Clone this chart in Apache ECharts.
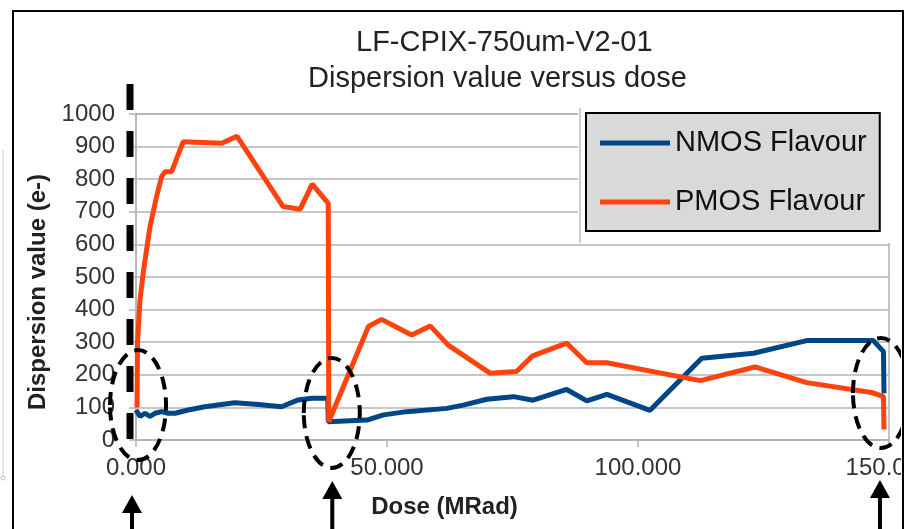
<!DOCTYPE html>
<html>
<head>
<meta charset="utf-8">
<script src="https://cdn.jsdelivr.net/npm/echarts@6/dist/echarts.min.js"></script>
<style>
  html, body { margin: 0; padding: 0; background: #fff; }
  #chart { width: 908px; height: 529px; }
</style>
</head>
<body>
<div id="chart"></div>
<script>
// (dose in MRad, dispersion in e-)
var nmosDose = [0, 0.8, 1.8, 2.8, 3.8, 5.1, 6.4, 7.8, 10.4, 13.7, 19.7, 24.4, 29, 32.3, 35, 38.2,
    38.3, 46, 49.3, 53.9, 61.9, 65.2, 69.9, 75.2, 79.1, 85.8, 89.8, 93.8, 102.4, 112.7, 123, 133.6, 146.9, 148.9, 149];
var nmosValue = [92, 72, 82, 72, 82, 87, 82, 82, 92, 102, 114, 109, 102, 123, 128, 128,
    56, 61, 77, 87, 97, 107, 125, 133, 122, 155, 120, 140, 91, 251, 266, 305, 305, 271, 143];

var pmosDose = [0.2, 0.3, 0.8, 1.5, 2.8, 4, 5.1, 5.8, 7.1, 9.4, 17.1, 20.1, 29.3, 32.7, 35.1, 38.3,
    38.4, 46.3, 48.9, 54.9, 58.6, 62.2, 70.5, 75.8, 79, 85.8, 89.8, 93.8, 112.4, 123.3, 133.6, 146.5, 148.9, 149];
var pmosValue = [100, 300, 430, 520, 655, 740, 808, 823, 823, 915, 910, 932, 716, 708, 785, 726,
    56, 348, 370, 322, 350, 291, 205, 210, 258, 297, 237, 237, 182, 224, 176, 146, 133, 32];

var seriesNames = ['NMOS Flavour', 'PMOS Flavour'];
var titleLines = ['LF-CPIX-750um-V2-01', 'Dispersion value versus dose'];

// hand-drawn marks on the original: ellipse centres and arrow positions, in data units
var ellipseAt = [[0.4, 107], [39, 83], [148.4, 144]];
var arrowAt = [-0.8, 39.1, 148.2];
var arrowTipBelow = [55, 41, 40];

var FONT = "'Liberation Sans', Arial, sans-serif";

function pairs(xs, ys) {
    return xs.map(function (x, i) { return [x, ys[i]]; });
}

var chart = echarts.init(document.getElementById('chart'));

var option = {
    animation: false,
    backgroundColor: '#fff',
    title: [
        { text: titleLines[0], left: 356, top: 28, padding: 0,
          textStyle: { fontFamily: FONT, fontSize: 29, fontWeight: 'normal', color: '#222' } },
        { text: titleLines[1], left: 308, top: 64, padding: 0,
          textStyle: { fontFamily: FONT, fontSize: 29, fontWeight: 'normal', color: '#222' } }
    ],
    legend: {
        orient: 'vertical',
        left: 586,
        top: 113,
        z: 10,
        padding: [15, 13, 14, 14],
        itemGap: 29,
        itemWidth: 70,
        itemHeight: 5,
        icon: 'rect',
        backgroundColor: '#d9d9d9',
        borderColor: '#000',
        borderWidth: 2,
        textStyle: { fontFamily: FONT, fontSize: 29, lineHeight: 30, color: '#111' },
        data: seriesNames
    },
    grid: {
        left: 136, right: 19, top: 114, bottom: 89,
        containLabel: false,
        outerBoundsMode: 'none',
        show: true, borderColor: '#b3b3b3', borderWidth: 1.5
    },
    xAxis: {
        type: 'value',
        min: 0, max: 150, interval: 50,
        name: 'Dose (MRad)',
        nameLocation: 'middle',
        nameGap: 55,
        nameTextStyle: { fontFamily: FONT, fontSize: 24, fontWeight: 'bold', color: '#222', padding: [0, 136, 0, 0] },
        axisLine: { lineStyle: { color: '#b3b3b3', width: 1.5 } },
        axisTick: { show: true, length: 7, lineStyle: { color: '#b3b3b3', width: 1.5 } },
        axisLabel: {
            fontFamily: FONT, fontSize: 24, color: '#333', margin: 16,
            formatter: function (v) { return v.toFixed(3); }
        },
        splitLine: { show: false }
    },
    yAxis: {
        type: 'value',
        min: 0, max: 1000, interval: 100,
        name: 'Dispersion value (e-)',
        nameLocation: 'middle',
        nameGap: 85,
        nameTextStyle: { fontFamily: FONT, fontSize: 24, fontWeight: 'bold', color: '#222', padding: [0, 30, 0, 0] },
        axisLine: { show: true, lineStyle: { color: '#b3b3b3', width: 1.5 } },
        axisTick: { show: true, length: 7, lineStyle: { color: '#b3b3b3', width: 1.5 } },
        axisLabel: {
            fontFamily: FONT, fontSize: 24, color: '#333', margin: 21,
            formatter: function (v) { return String(v); }
        },
        splitLine: { lineStyle: { color: '#b3b3b3', width: 1.5 } }
    },
    series: [
        {
            name: seriesNames[0], type: 'line', symbol: 'none',
            color: '#004586',
            lineStyle: { width: 5, color: '#004586' },
            data: pairs(nmosDose, nmosValue)
        },
        {
            name: seriesNames[1], type: 'line', symbol: 'none',
            color: '#ff420e',
            lineStyle: { width: 5, color: '#ff420e' },
            data: pairs(pmosDose, pmosValue)
        }
    ]
};

chart.setOption(option);

// annotations, placed from the axes once the grid exists
function buildGraphic() {
    var pt = function (x, y) { return chart.convertToPixel({ gridIndex: 0 }, [x, y]); };
    var g = [];
    var top = pt(0, 1000), origin = pt(0, 0);

    // white box the legend sits in
    g.push({ type: 'rect', z: 6, shape: { x: 578, y: 107, width: 315, height: 136 }, style: { fill: '#fff' } });
    g.push({ type: 'line', z: 7, shape: { x1: 580, y1: 108, x2: 580, y2: 243 }, style: { stroke: '#bbb', lineWidth: 1.5 } });

    // dashed marker along the y axis
    g.push({
        type: 'line', z: 50,
        shape: { x1: origin[0] - 6, y1: top[1] - 30, x2: origin[0] - 6, y2: origin[1] },
        style: { stroke: '#000', lineWidth: 7, lineDash: [26, 21] }
    });

    ellipseAt.forEach(function (d) {
        var c = pt(d[0], d[1]);
        g.push({
            type: 'ellipse', z: 50,
            shape: { cx: c[0], cy: c[1], rx: 28, ry: 55 },
            style: { fill: 'none', stroke: '#000', lineWidth: 4, lineDash: [13, 8] }
        });
    });

    arrowAt.forEach(function (x, i) {
        var px = pt(x, 0)[0];
        var tip = origin[1] + arrowTipBelow[i];
        g.push({ type: 'line', z: 50, shape: { x1: px, y1: tip + 12, x2: px, y2: 540 }, style: { stroke: '#000', lineWidth: 4 } });
        g.push({ type: 'polygon', z: 50, shape: { points: [[px, tip], [px - 10, tip + 18], [px + 10, tip + 18]] }, style: { fill: '#000' } });
    });

    // frame of the pasted chart
    g.push({ type: 'rect', z: 60, shape: { x: 901, y: 0, width: 10, height: 540 }, style: { fill: '#fff' } });
    g.push({ type: 'rect', z: 61, shape: { x: 13, y: 11, width: 890, height: 540 }, style: { fill: 'none', stroke: '#000', lineWidth: 2 } });
    g.push({ type: 'line', z: 61, shape: { x1: 3, y1: 150, x2: 3, y2: 475 }, style: { stroke: '#ccc', lineWidth: 1 } });
    g.push({ type: 'circle', z: 61, shape: { cx: 3, cy: 478, r: 2 }, style: { fill: 'none', stroke: '#bbb', lineWidth: 1 } });
    return g;
}

chart.setOption({ graphic: buildGraphic() });
</script>
</body>
</html>
